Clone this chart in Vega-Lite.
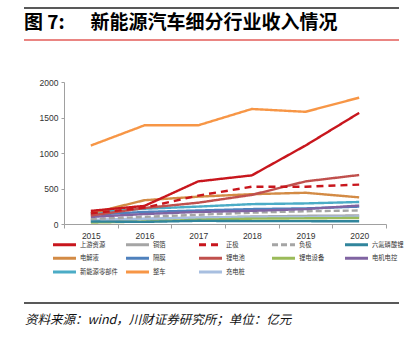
{
  "$schema": "https://vega.github.io/schema/vega-lite/v6.json",
  "padding": {"left": 21, "top": 5, "right": 12, "bottom": 0},
  "spacing": 35,
  "config": {
    "view": {"stroke": null},
    "font": "Liberation Sans",
    "legend": {"symbolSize": 33, "symbolStrokeWidth": 3}
  },
  "vconcat": [
    {
      "width": 375,
      "height": 32,
      "data": {"values": [{"k": "L", "t": "图 7:\u00a0\u00a0\u00a0\u00a0\u00a0\u00a0新能源汽车细分行业收入情况"}, {"k": "R", "t": ""}]},
      "layer": [
        {
          "mark": {"type": "line", "color": "#222222", "strokeWidth": 1.5},
          "encoding": {
            "x": {"field": "k", "type": "nominal", "scale": {"type": "point", "padding": 0}, "axis": null},
            "y": {"datum": 1, "type": "quantitative", "scale": {"domain": [0, 1]}, "axis": null}
          }
        },
        {
          "mark": {"type": "line", "color": "#e35d59", "strokeWidth": 1.5},
          "encoding": {
            "x": {"field": "k", "type": "nominal", "scale": {"type": "point", "padding": 0}, "axis": null},
            "y": {"datum": 0, "type": "quantitative", "scale": {"domain": [0, 1]}, "axis": null}
          }
        },
        {
          "mark": {"type": "text", "align": "left", "baseline": "middle", "font": "Noto Sans CJK SC", "fontSize": 19, "fontWeight": "bold", "color": "#000000"},
          "encoding": {
            "x": {"field": "k", "type": "nominal", "scale": {"type": "point", "padding": 0}, "axis": null},
            "y": {"datum": 0.52, "type": "quantitative", "scale": {"domain": [0, 1]}, "axis": null},
            "text": {"field": "t", "type": "nominal"}
          }
        }
      ]
    },
    {
      "width": 362,
      "height": 142,
      "data": {"values": [
        {"s": "铜箔", "year": "2015", "v": 50}, {"s": "铜箔", "year": "2016", "v": 70}, {"s": "铜箔", "year": "2017", "v": 90}, {"s": "铜箔", "year": "2018", "v": 105}, {"s": "铜箔", "year": "2019", "v": 115}, {"s": "铜箔", "year": "2020", "v": 120},
        {"s": "充电桩", "year": "2015", "v": 60}, {"s": "充电桩", "year": "2016", "v": 75}, {"s": "充电桩", "year": "2017", "v": 90}, {"s": "充电桩", "year": "2018", "v": 100}, {"s": "充电桩", "year": "2019", "v": 100}, {"s": "充电桩", "year": "2020", "v": 105},
        {"s": "锂电设备", "year": "2015", "v": 20}, {"s": "锂电设备", "year": "2016", "v": 35}, {"s": "锂电设备", "year": "2017", "v": 60}, {"s": "锂电设备", "year": "2018", "v": 75}, {"s": "锂电设备", "year": "2019", "v": 80}, {"s": "锂电设备", "year": "2020", "v": 85},
        {"s": "六氟磷酸锂", "year": "2015", "v": 35}, {"s": "六氟磷酸锂", "year": "2016", "v": 30}, {"s": "六氟磷酸锂", "year": "2017", "v": 45}, {"s": "六氟磷酸锂", "year": "2018", "v": 40}, {"s": "六氟磷酸锂", "year": "2019", "v": 40}, {"s": "六氟磷酸锂", "year": "2020", "v": 38},
        {"s": "负极", "year": "2015", "v": 70}, {"s": "负极", "year": "2016", "v": 100}, {"s": "负极", "year": "2017", "v": 130}, {"s": "负极", "year": "2018", "v": 160}, {"s": "负极", "year": "2019", "v": 180}, {"s": "负极", "year": "2020", "v": 190},
        {"s": "隔膜", "year": "2015", "v": 130}, {"s": "隔膜", "year": "2016", "v": 170}, {"s": "隔膜", "year": "2017", "v": 190}, {"s": "隔膜", "year": "2018", "v": 210}, {"s": "隔膜", "year": "2019", "v": 220}, {"s": "隔膜", "year": "2020", "v": 245},
        {"s": "电机电控", "year": "2015", "v": 100}, {"s": "电机电控", "year": "2016", "v": 140}, {"s": "电机电控", "year": "2017", "v": 170}, {"s": "电机电控", "year": "2018", "v": 185}, {"s": "电机电控", "year": "2019", "v": 210}, {"s": "电机电控", "year": "2020", "v": 260},
        {"s": "新能源零部件", "year": "2015", "v": 160}, {"s": "新能源零部件", "year": "2016", "v": 215}, {"s": "新能源零部件", "year": "2017", "v": 245}, {"s": "新能源零部件", "year": "2018", "v": 280}, {"s": "新能源零部件", "year": "2019", "v": 290}, {"s": "新能源零部件", "year": "2020", "v": 310},
        {"s": "电解液", "year": "2015", "v": 150}, {"s": "电解液", "year": "2016", "v": 335}, {"s": "电解液", "year": "2017", "v": 385}, {"s": "电解液", "year": "2018", "v": 420}, {"s": "电解液", "year": "2019", "v": 440}, {"s": "电解液", "year": "2020", "v": 375},
        {"s": "锂电池", "year": "2015", "v": 120}, {"s": "锂电池", "year": "2016", "v": 225}, {"s": "锂电池", "year": "2017", "v": 300}, {"s": "锂电池", "year": "2018", "v": 410}, {"s": "锂电池", "year": "2019", "v": 600}, {"s": "锂电池", "year": "2020", "v": 690},
        {"s": "正极", "year": "2015", "v": 150}, {"s": "正极", "year": "2016", "v": 230}, {"s": "正极", "year": "2017", "v": 400}, {"s": "正极", "year": "2018", "v": 525}, {"s": "正极", "year": "2019", "v": 525}, {"s": "正极", "year": "2020", "v": 555},
        {"s": "上游资源", "year": "2015", "v": 185}, {"s": "上游资源", "year": "2016", "v": 255}, {"s": "上游资源", "year": "2017", "v": 600}, {"s": "上游资源", "year": "2018", "v": 685}, {"s": "上游资源", "year": "2019", "v": 1105}, {"s": "上游资源", "year": "2020", "v": 1565},
        {"s": "整车", "year": "2015", "v": 1105}, {"s": "整车", "year": "2016", "v": 1390}, {"s": "整车", "year": "2017", "v": 1390}, {"s": "整车", "year": "2018", "v": 1620}, {"s": "整车", "year": "2019", "v": 1580}, {"s": "整车", "year": "2020", "v": 1780}
      ]},
      "mark": {"type": "line", "strokeWidth": 2.4},
      "encoding": {
        "x": {
          "field": "year", "type": "ordinal", "bandPosition": 0.5,
          "scale": {"type": "band", "paddingInner": 0, "paddingOuter": 0, "range": [40, 362]},
          "axis": {"title": null, "labelAngle": 0, "tickBand": "extent", "tickSize": 4, "labelPadding": 3, "labelFontSize": 8.5, "labelColor": "#333333", "domainColor": "#a0a0a0", "tickColor": "#a0a0a0", "minExtent": 41, "maxExtent": 41}
        },
        "y": {
          "field": "v", "type": "quantitative",
          "scale": {"domain": [0, 2000], "nice": false},
          "axis": {"title": null, "offset": -40, "values": [0, 500, 1000, 1500, 2000], "format": "d", "grid": false, "tickSize": 3, "labelPadding": 3, "labelFontSize": 8.5, "labelColor": "#333333", "domainColor": "#a0a0a0", "tickColor": "#a0a0a0"}
        },
        "color": {
          "field": "s", "type": "nominal",
          "scale": {
            "domain": ["上游资源", "铜箔", "正极", "负极", "六氟磷酸锂", "电解液", "隔膜", "锂电池", "锂电设备", "电机电控", "新能源零部件", "整车", "充电桩"],
            "range": ["#c8161d", "#a5a5a5", "#c8161d", "#a5a5a5", "#31859c", "#d38b45", "#4f81bd", "#c0504d", "#9bbb59", "#8064a2", "#4bacc6", "#f79646", "#a8bfe0"]
          },
          "legend": {"title": null, "orient": "none", "legendX": 36, "legendY": 232, "direction": "horizontal", "columns": 5, "gridAlign": "all", "columnPadding": 2, "rowPadding": 0.7, "padding": 0, "labelFont": "Noto Sans CJK SC", "labelFontSize": 6.3, "labelColor": "#333333", "labelOffset": 11, "symbolType": "M-4,0H4", "symbolSize": 33, "symbolStrokeWidth": 3}
        },
        "strokeDash": {
          "field": "s", "type": "nominal",
          "scale": {
            "domain": ["上游资源", "铜箔", "正极", "负极", "六氟磷酸锂", "电解液", "隔膜", "锂电池", "锂电设备", "电机电控", "新能源零部件", "整车", "充电桩"],
            "range": [[1, 0], [1, 0], [7, 5], [6, 3], [1, 0], [1, 0], [1, 0], [1, 0], [1, 0], [1, 0], [1, 0], [1, 0], [1, 0]]
          },
          "legend": {"title": null, "orient": "none", "legendX": 36, "legendY": 232, "direction": "horizontal", "columns": 5, "gridAlign": "all", "columnPadding": 2, "rowPadding": 0.7, "padding": 0, "labelFont": "Noto Sans CJK SC", "labelFontSize": 6.3, "labelColor": "#333333", "labelOffset": 11, "symbolType": "M-4,0H4", "symbolSize": 33, "symbolStrokeWidth": 3}
        }
      }
    },
    {
      "width": 375,
      "height": 34,
      "data": {"values": [{"k": "L", "t": "资料来源：wind，川财证券研究所；单位：亿元"}, {"k": "R", "t": ""}]},
      "layer": [
        {
          "mark": {"type": "line", "color": "#222222", "strokeWidth": 1.5},
          "encoding": {
            "x": {"field": "k", "type": "nominal", "scale": {"type": "point", "padding": 0}, "axis": null},
            "y": {"datum": 1, "type": "quantitative", "scale": {"domain": [0, 1]}, "axis": null}
          }
        },
        {
          "mark": {"type": "text", "align": "left", "baseline": "middle", "dx": 1, "font": "Noto Sans CJK SC", "fontSize": 12.5, "fontStyle": "italic", "color": "#111111"},
          "encoding": {
            "x": {"field": "k", "type": "nominal", "scale": {"type": "point", "padding": 0}, "axis": null},
            "y": {"datum": 0.5, "type": "quantitative", "scale": {"domain": [0, 1]}, "axis": null},
            "text": {"field": "t", "type": "nominal"}
          }
        }
      ]
    }
  ]
}
